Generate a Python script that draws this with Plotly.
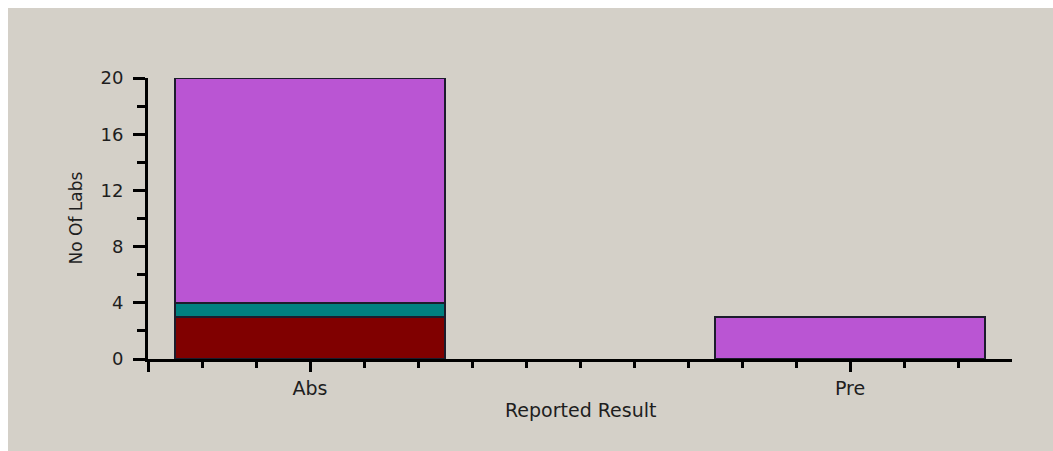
import plotly.graph_objects as go

categories = ["Abs", "Pre"]
cat_pos = [0, 1]
series_maroon = [3, 0]
series_teal = [1, 0]
series_violet = [16, 3]

BG = "#D4D0C8"
FONT = dict(family="DejaVu Sans, Arial, sans-serif", size=19, color="#1e1e1e")
LINE = dict(color="#1c1c2c", width=1.5)

fig = go.Figure()
for vals, col in [(series_maroon, "#800000"), (series_teal, "#008080"), (series_violet, "#BA55D3")]:
    fig.add_trace(go.Bar(x=cat_pos, y=vals, width=0.5, marker=dict(color=col, line=LINE),
                         showlegend=False, hoverinfo="y"))

minor_x = [round(-0.2 + 0.1 * i, 1) for i in range(15)]
minor_x = [v for v in minor_x if v not in (0.0, 1.0)]

fig.update_layout(
    barmode="stack",
    width=1045, height=443,
    margin=dict(l=140, r=41, t=70, b=92),
    paper_bgcolor=BG, plot_bgcolor=BG,
    font=FONT,
    xaxis=dict(range=[-0.3, 1.3], tickmode="array", tickvals=[-0.3] + cat_pos,
               ticktext=[""] + categories, showgrid=False, zeroline=False,
               showline=True, linecolor="black", linewidth=3,
               ticks="outside", ticklen=10, tickwidth=3, tickcolor="black",
               ticklabelstandoff=0,
               minor=dict(tickmode="array", tickvals=minor_x, ticks="outside",
                          ticklen=6, tickwidth=3, tickcolor="black", showgrid=False)),
    yaxis=dict(range=[0, 20], tick0=0, dtick=4, showgrid=False, zeroline=False,
               showline=True, linecolor="black", linewidth=3,
               ticks="outside", ticklen=12, tickwidth=3, tickcolor="black",
               ticklabelstandoff=6, tickfont=dict(size=18),
               minor=dict(tick0=0, dtick=2, ticks="outside", ticklen=8,
                          tickwidth=3, tickcolor="black", showgrid=False)),
    annotations=[
        dict(text="Reported Result", xref="paper", yref="paper", x=0.5, y=0,
             xanchor="center", yanchor="middle", yshift=-51, showarrow=False, font=FONT),
        dict(text="No Of Labs", xref="paper", yref="paper", x=0, y=0.5,
             xanchor="center", yanchor="middle", xshift=-73, textangle=-90,
             showarrow=False, font=dict(FONT, size=17)),
    ],
)

page_css = ("document.documentElement.style.overflow='hidden';"
            "document.body.style.overflow='hidden';"
            "document.body.style.margin='8px 0 0 8px';")
fig.write_html("out.html", post_script=page_css)
